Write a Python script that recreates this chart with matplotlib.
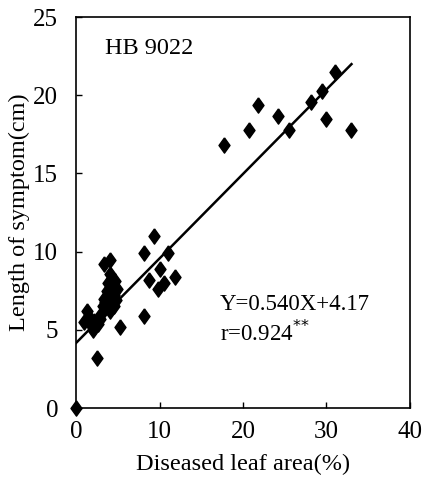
import numpy as np
import matplotlib.pyplot as plt

# data
area = [0.0, 2.5, 1.0, 1.3, 1.5, 1.8, 2.0, 2.2, 2.6, 2.9, 3.0, 3.2, 3.3, 3.5,
        3.3, 4.0, 4.1, 3.8, 4.2, 3.7, 4.5, 4.8, 4.5, 4.0, 4.6, 3.9, 5.2, 4.3, 4.9,
        9.3, 8.1, 11.0, 10.1, 8.7, 11.8, 10.5, 9.8, 8.1,
        17.7, 20.7, 21.8, 24.2, 25.5, 28.2, 29.5, 29.9, 31.0, 33.0]
length = [0.0, 3.2, 5.5, 6.2, 5.8, 5.3, 5.0, 5.6, 5.4, 5.7, 6.0, 6.5, 7.0, 6.8,
          9.2, 9.5, 8.6, 8.0, 7.8, 7.5, 7.2, 6.9, 6.5, 6.2, 8.1, 7.0, 5.2, 7.4, 7.6,
          11.0, 9.9, 9.9, 8.9, 8.2, 8.4, 8.0, 7.6, 5.9,
          16.8, 17.8, 19.4, 18.7, 17.8, 19.6, 20.3, 18.5, 21.5, 17.8]
slope = 0.540
intercept = 4.17
fit_x = [0, 33]

plt.rcParams['font.family'] = ['Liberation Serif', 'DejaVu Serif']

fig = plt.figure(figsize=(4.23, 4.87), dpi=100)
ax = fig.add_axes([0.180, 0.162, 0.789, 0.803])

diamond = [(0, 1), (0.72, 0), (0, -1), (-0.72, 0), (0, 1)]
ax.plot(area, length, linestyle='none', marker=diamond, ms=11, color='black',
        clip_on=False, zorder=3)

fx = np.array(fit_x)
ax.plot(fx, slope * fx + intercept, color='black', lw=1.8)

ax.set_xlim(0, 40)
ax.set_ylim(0, 25)
ax.set_xticks([0, 10, 20, 30, 40])
ax.set_yticks([0, 5, 10, 15, 20, 25])
ax.tick_params(direction='in', length=4, width=1, labelsize=18, pad=13)
ax.tick_params(axis='x', pad=9)
for s in ax.spines.values():
    s.set_linewidth(1.2)

ax.set_xlabel('Diseased leaf area(%)', fontsize=17.5, labelpad=8)
ax.set_ylabel('Length of symptom(cm)', fontsize=17.5, labelpad=2)

ax.text(3.5, 23.0, 'HB 9022', fontsize=17.5, va='center')
ax.text(17.2, 6.6, 'Y=0.540X+4.17', fontsize=16.5, va='center')
ax.text(17.2, 4.8, 'r=0.924$^{{*}{*}}$', fontsize=16.5, va='center')

fig.savefig('out.png', dpi=100)
